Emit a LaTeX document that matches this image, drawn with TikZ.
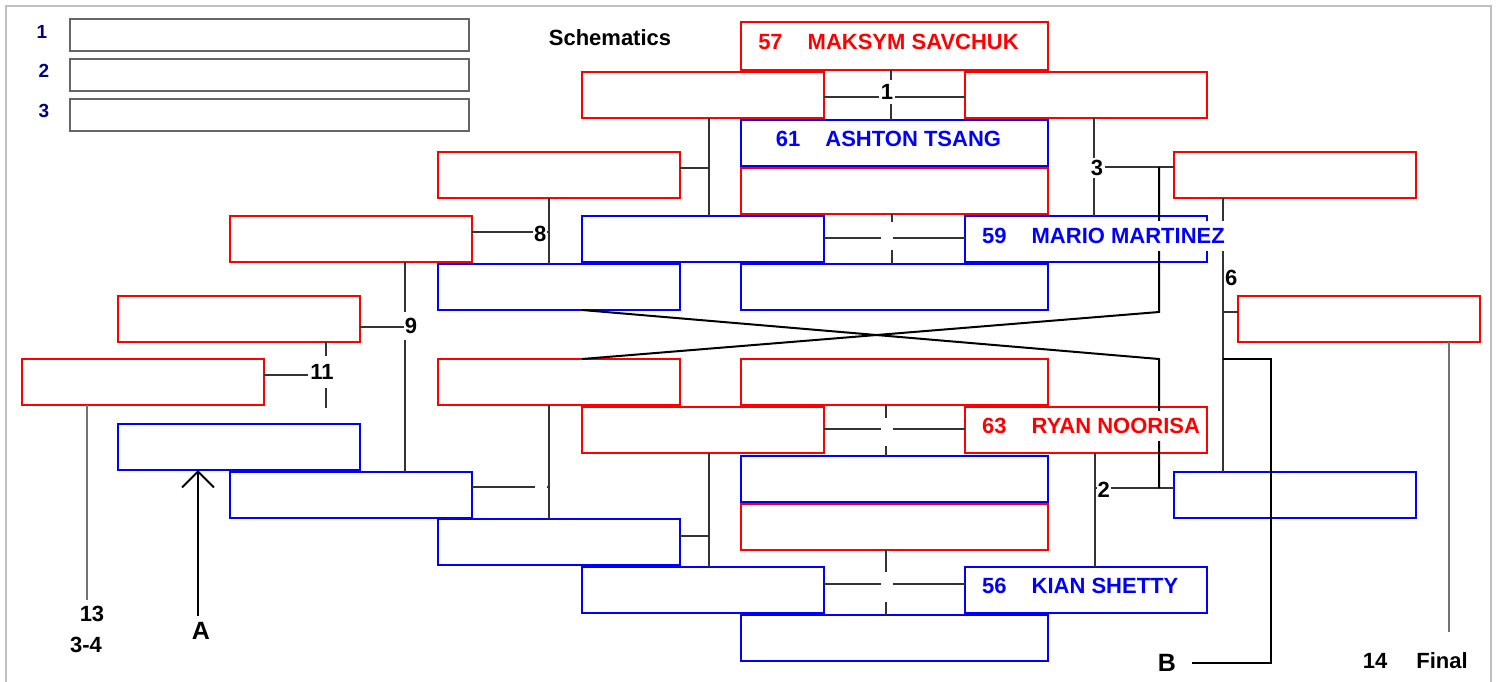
\documentclass[tikz,border=0pt]{standalone}
\usepackage{fontspec}
\setmainfont{Liberation Sans}
\usepackage{tikz}
\usetikzlibrary{arrows.meta}
\definecolor{navy}{HTML}{000080}
\newcommand{\pts}[1]{\bfseries\fontsize{#1}{#1}\selectfont}

\tikzset{
	box/.style={draw, line width=2pt, minimum width=242pt, minimum height=46pt, inner sep=0pt, outer sep=0pt, anchor=north west},
	rbox/.style={box, draw=red},
	bbox/.style={box, draw=blue},
	wide/.style={minimum width=307pt},
	gbox/.style={box, draw=black!60, minimum width=399pt, minimum height=32pt},
	player/.style={fill=white, inner xsep=2pt, inner ysep=0pt, minimum height=30pt, font=\pts{22}},
	mnum/.style={fill=white, inner xsep=1.5pt, inner ysep=0pt, font=\pts{22}},
	mgap/.style={fill=white, inner sep=0pt, minimum width=12pt},
	tag/.style={inner sep=0pt, font=\pts{22}},
	wire/.style={black!80, line width=1.2pt},
	heavy/.style={black, line width=2pt},
	lead/.style={black!55, line width=1.2pt},
}

\begin{document}
\begin{tikzpicture}[x=1pt, y=-1pt]
	\useasboundingbox (0,0) rectangle (1499,681);
	\draw [black!25, line width=2.5pt] (6,690) -- (6,6) -- (1491,6) -- (1491,690);
	%
	\node [tag, text=navy, font=\pts{19}] (q1) at (42,32) {1};
	\node [tag, text=navy, font=\pts{19}] (q2) at (44,71) {2};
	\node [tag, text=navy, font=\pts{19}] (q3) at (44,111) {3};
	\node [gbox] (s1) at (70,19) {};
	\node [gbox] (s2) at (70,59) {};
	\node [gbox] (s3) at (70,99) {};
	\node [tag] (head) at (610,38) {Schematics};
	%
	\node [rbox] (a1) at (22,359) {};
	\node [rbox] (b1) at (118,296) {};
	\node [bbox] (b2) at (118,424) {};
	\node [rbox] (c1) at (230,216) {};
	\node [bbox] (c2) at (230,472) {};
	\node [rbox] (d1) at (438,152) {};
	\node [bbox] (d2) at (438,264) {};
	\node [rbox] (d3) at (438,359) {};
	\node [bbox] (d4) at (438,519) {};
	\node [rbox] (e1) at (582,72) {};
	\node [bbox] (e2) at (582,216) {};
	\node [rbox] (e3) at (582,407) {};
	\node [bbox] (e4) at (582,567) {};
	\node [rbox, wide, minimum height=48pt] (f1) at (741,22) {};
	\node [bbox, wide] (f2) at (741,120) {};
	\node [rbox, wide] (f3) at (741,168) {};
	\node [bbox, wide] (f4) at (741,264) {};
	\node [rbox, wide] (f5) at (741,359) {};
	\node [bbox, wide] (f6) at (741,456) {};
	\node [rbox, wide] (f7) at (741,504) {};
	\node [bbox, wide] (f8) at (741,615) {};
	\node [rbox] (g1) at (965,72) {};
	\node [bbox] (g2) at (965,216) {};
	\node [rbox] (g3) at (965,407) {};
	\node [bbox] (g4) at (965,567) {};
	\node [rbox] (h1) at (1174,152) {};
	\node [bbox] (h2) at (1174,472) {};
	\node [rbox] (k1) at (1238,296) {};
	%
	\node [tag] (l13) at (92,614) {13};
	\node [tag] (l34) at (86,645) {3-4};
	\node [tag, font=\pts{25}] (A) at (201,631) {A};
	\node [tag, font=\pts{25}] (B) at (1167,663) {B};
	\node [tag] (l14) at (1375,661) {14};
	\node [tag] (fin) at (1442,661) {Final};
	%
	\coordinate (j1) at (891,97);
	\coordinate (j2) at (1095,488);
	\coordinate (j3) at (1094,167);
	\coordinate (j4) at (892,238);
	\coordinate (j5) at (886,429);
	\coordinate (j6) at (1223,312);
	\coordinate (j7) at (886,584);
	\coordinate (j8) at (549,232);
	\coordinate (j9) at (405,327);
	\coordinate (j11) at (326,375);
	\coordinate (e11) at (326,408);
	\coordinate (ja) at (709,168);
	\coordinate (jb) at (709,536);
	\coordinate (jc) at (549,487);
	%
	\draw [wire] (e1.east |- j1) -- (g1.west |- j1);
	\draw [wire] (f1.south -| j1) -- (f2.north -| j1);
	\draw [wire] (e2.east |- j4) -- (g2.west |- j4);
	\draw [wire] (f3.south -| j4) -- (f4.north -| j4);
	\draw [wire] (e3.east |- j5) -- (g3.west |- j5);
	\draw [wire] (f5.south -| j5) -- (f6.north -| j5);
	\draw [wire] (e4.east |- j7) -- (g4.west |- j7);
	\draw [wire] (f7.south -| j7) -- (f8.north -| j7);
	\draw [wire] (g1.south -| j3) -- (g2.north -| j3);
	\draw [wire] (j3) -- (h1.west |- j3);
	\draw [wire] (g3.south -| j2) -- (g4.north -| j2);
	\draw [wire] (j2) -- (h2.west |- j2);
	\draw [wire] (e1.south -| ja) -- (e2.north -| ja);
	\draw [wire] (d1.east |- ja) -- (ja);
	\draw [wire] (e3.south -| jb) -- (e4.north -| jb);
	\draw [wire] (d4.east |- jb) -- (jb);
	\draw [wire] (d1.south -| j8) -- (d2.north -| j8);
	\draw [wire] (c1.east |- j8) -- (j8);
	\draw [wire] (d3.south -| jc) -- (d4.north -| jc);
	\draw [wire] (c2.east |- jc) -- (jc);
	\draw [wire] (c1.south -| j9) -- (c2.north -| j9);
	\draw [wire] (b1.east |- j9) -- (j9);
	\draw [wire] (b1.south -| j11) -- (e11);
	\draw [wire] (a1.east |- j11) -- (j11);
	\draw [wire] (h1.south -| j6) -- (h2.north -| j6);
	\draw [wire] (j6) -- (k1.west |- j6);
	%
	\coordinate (x1) at (1159,359);
	\coordinate (x2) at (1159,312);
	\coordinate (jB) at (1223,359);
	\coordinate (cB) at (1271,663);
	\coordinate (eA) at (198,616);
	\coordinate (e13) at (87,600);
	\coordinate (eF) at (1449,632);
	\draw [heavy] (d2.south -| e2.west) -- (x1) -- (x1 |- j2);
	\draw [heavy] (d3.north -| e3.west) -- (x2) -- (x2 |- j3);
	\draw [heavy] (jB) -| (cB) -- ([xshift=16pt]B.east);
	\draw [heavy, -{Straight Barb[length=16pt, width=32pt]}] (eA) -- (b2.south -| eA);
	\draw [lead] (a1.south -| e13) -- (e13);
	\draw [lead] (k1.south -| eF) -- (eF);
	%
	\node [player, text=red] (p57) at ([xshift=-6pt, yshift=4pt]f1.center) {57\hspace{25pt}MAKSYM SAVCHUK};
	\node [player, text=blue] (p61) at ([xshift=-6pt, yshift=4pt]f2.center) {61\hspace{25pt}ASHTON TSANG};
	\node [player, text=blue, anchor=west] (p59) at ([xshift=15pt, yshift=3pt]g2.west) {59\hspace{25pt}MARIO MARTINEZ};
	\node [player, text=red, anchor=west] (p63) at ([xshift=15pt, yshift=4pt]g3.west) {63\hspace{25pt}RYAN NOORISA};
	\node [player, text=blue, anchor=west] (p56) at ([xshift=15pt, yshift=4pt]g4.west) {56\hspace{25pt}KIAN SHETTY};
	%
	\node [mnum, minimum height=24pt] (n1) at (887,92) {1};
	\node [mnum, minimum height=20pt] (n3) at (1097,168) {3};
	\node [mnum, anchor=west, inner xsep=1pt] (n2) at (1096.5,490) {2};
	\node [mnum, anchor=east, inner xsep=1pt] (n8) at (547.5,234) {8};
	\node [mnum, minimum height=28pt, inner xsep=1pt] (n9) at (411,326) {9};
	\node [mnum, minimum height=32pt, inner xsep=2pt] (n11) at (322,372) {11};
	\node [tag, anchor=west] (n6) at (1225,278) {6};
	\node [mgap, minimum height=28pt] (z4) at (886.5,236) {};
	\node [mgap, minimum height=28pt] (z5) at (886.5,432) {};
	\node [mgap, minimum height=30pt] (z7) at (886.5,587) {};
	\node [mgap, minimum height=20pt, anchor=east] (zc) at (547,487) {};
\end{tikzpicture}
\end{document}
